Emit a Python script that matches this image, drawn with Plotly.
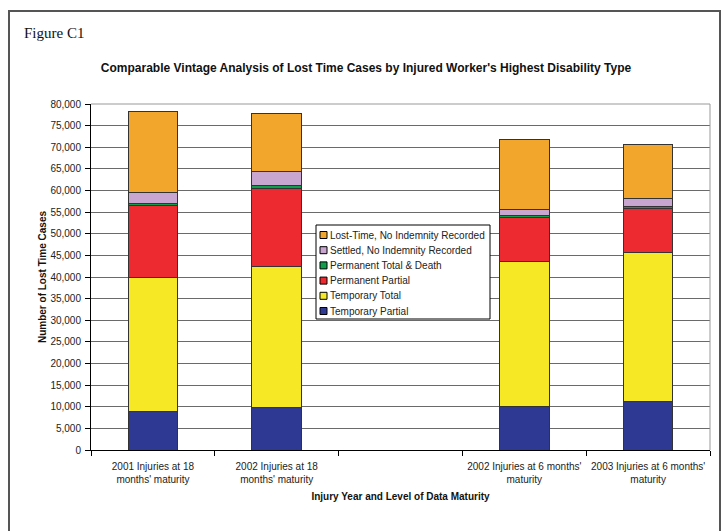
import plotly.graph_objects as go

categories = ["2001 Injuries at 18<br>months' maturity",
              "2002 Injuries at 18<br>months' maturity",
              " ",
              "2002 Injuries at 6 months'<br>maturity",
              "2003 Injuries at 6 months'<br>maturity"]

temporary_partial = [8900, 9900, None, 10150, 11150]
temporary_total = [31100, 32600, None, 33450, 34550]
permanent_partial = [16500, 18000, None, 10200, 10150]
permanent_total_death = [500, 600, None, 400, 450]
settled_no_indemnity = [2500, 3400, None, 1400, 1800]
lost_time_no_indemnity = [18700, 13400, None, 16200, 12600]

series = [
    ("Temporary Partial", temporary_partial, "#2E3994"),
    ("Temporary Total", temporary_total, "#F6E824"),
    ("Permanent Partial", permanent_partial, "#EC2A2F"),
    ("Permanent Total & Death", permanent_total_death, "#0F9E4A"),
    ("Settled, No Indemnity Recorded", settled_no_indemnity, "#C9A6D0"),
    ("Lost-Time, No Indemnity Recorded", lost_time_no_indemnity, "#F3A62C"),
]

fig = go.Figure()
for name, vals, col in series:
    fig.add_trace(go.Bar(x=categories, y=vals, name=name, width=0.4,
                         marker=dict(color=col, line=dict(color="#333333", width=1))))

W, H = 723, 531
L, R, T, B = 91, 13, 104, 81
pw, ph = W - L - R, H - T - B

def px(x):
    return (x - L) / pw

def py(y):
    return (H - B - y) / ph

TXT = "#222222"
fig.update_layout(
    width=W, height=H,
    margin=dict(l=L, r=R, t=T, b=B),
    barmode="stack",
    paper_bgcolor="white", plot_bgcolor="white",
    font=dict(family="Liberation Sans, Arial", size=10, color=TXT),
    title=dict(text="<b>Comparable Vintage Analysis of Lost Time Cases by Injured Worker's Highest Disability Type</b>",
               x=366 / W, xanchor="center", y=1 - 68 / H, yanchor="middle",
               xref="container", yref="container",
               font=dict(size=12, family="Liberation Sans, Arial", color="#111")),
    showlegend=False,
    xaxis=dict(type="category", categoryorder="array", categoryarray=categories,
               tickson="boundaries", ticks="outside", ticklen=5, tickcolor="#000",
               showline=True, linecolor="#000", linewidth=1, showgrid=False,
               tickfont=dict(size=10, color=TXT), range=[-0.5, 4.5], ticklabelstandoff=7,
               title=dict(text="<b>Injury Year and Level of Data Maturity</b>",
                          font=dict(size=10, color="#111"), standoff=8)),
    yaxis=dict(range=[0, 80000], dtick=5000, tickformat=",d", showgrid=True,
               gridcolor="#6a6a6a", gridwidth=1, ticks="outside", ticklen=5, tickcolor="#000",
               showline=True, linecolor="#000", linewidth=1, tickfont=dict(size=10, color=TXT),
               ticklabelstandoff=2,
               title=dict(text="<b>Number of Lost Time Cases</b>", font=dict(size=10, color="#111"), standoff=1)),
)

# right and top edge of plot area
fig.add_shape(type="line", xref="paper", yref="paper", x0=1, x1=1, y0=0, y1=1,
              line=dict(color="#999999", width=1))
fig.add_shape(type="line", xref="paper", yref="paper", x0=0, x1=1, y0=1, y1=1,
              line=dict(color="#999999", width=1))
# outer frame
fig.add_shape(type="rect", xref="paper", yref="paper",
              x0=px(9), x1=px(720), y0=py(545), y1=py(11),
              line=dict(color="#555555", width=2))
fig.add_annotation(text="Figure C1", xref="paper", yref="paper", x=px(22), y=py(33),
                   xanchor="left", yanchor="middle", showarrow=False,
                   font=dict(family="Liberation Serif, Times New Roman", size=15, color="#111"))

# custom legend (reversed order, like the stacked bars)
lx0, lx1, ly0, ly1 = 316, 490, 225, 319
fig.add_shape(type="rect", xref="paper", yref="paper",
              x0=px(lx0), x1=px(lx1), y0=py(ly1), y1=py(ly0),
              fillcolor="white", line=dict(color="#000000", width=1), layer="above")
row_h = 15.2
for i, (name, vals, col) in enumerate(reversed(series)):
    cy = ly0 + 10 + i * row_h
    fig.add_shape(type="rect", xref="paper", yref="paper",
                  x0=px(320), x1=px(327), y0=py(cy + 3.5), y1=py(cy - 3.5),
                  fillcolor=col, line=dict(color="#000000", width=1), layer="above")
    fig.add_annotation(text=name, xref="paper", yref="paper", x=px(328), y=py(cy),
                       xanchor="left", yanchor="middle", showarrow=False,
                       font=dict(size=10, color=TXT))

fig.write_html("out.html", config={"displayModeBar": False})
with open("out.html", "r", encoding="utf-8") as f:
    html = f.read()
html = html.replace("<body>", '<body style="margin:0;padding:0">', 1)
with open("out.html", "w", encoding="utf-8") as f:
    f.write(html)
